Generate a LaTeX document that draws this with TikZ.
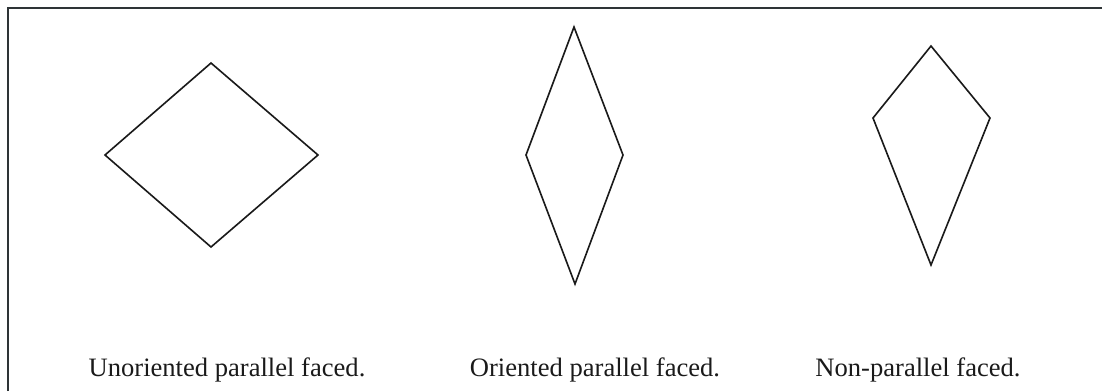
\documentclass[tikz,border=0pt]{standalone}
\usepackage{fontspec}
\setmainfont{Liberation Serif}
\definecolor{ink}{HTML}{1A1A1A}
\definecolor{rule}{HTML}{2E3436}
\newcommand{\capsize}{\fontsize{18.9}{22}\selectfont}
\tikzset{
 every node/.append style={font=\capsize,text=ink},
 crystal/.style={draw=ink,line width=1.15pt,line join=miter},
 caption/.style={anchor=base,inner sep=0pt},
 frame/.style={draw=rule,line width=1.5pt},
}

\begin{document}
\begin{tikzpicture}[x=0.025cm,y=-0.025cm]
\useasboundingbox (0,0) rectangle (1102,391);

% frame, cut at right and bottom
\draw[frame] (8,391) -- (8,8) -- (1102,8);

% unoriented parallel faced
\coordinate (ut) at (211,63);
\coordinate (ur) at (318,155);
\coordinate (ub) at (211,247);
\coordinate (ul) at (105,155);
\draw[crystal] (ut) -- (ur) -- (ub) -- (ul) -- cycle;

% oriented parallel faced
\coordinate (ot) at (574,27);
\coordinate (or) at (623,155);
\coordinate (ob) at (575,284);
\coordinate (ol) at (526,155);
\draw[crystal] (ot) -- (or) -- (ob) -- (ol) -- cycle;

% non-parallel faced
\coordinate (nt) at (931,46);
\coordinate (nr) at (990,118);
\coordinate (nb) at (931,265);
\coordinate (nl) at (873,118);
\draw[crystal] (nt) -- (nr) -- (nb) -- (nl) -- cycle;

\node[caption] (ucap) at (227,376) {Unoriented parallel faced.};
\node[caption] (ocap) at (595,376) {Oriented parallel faced.};
\node[caption] (ncap) at (918,376) {Non-parallel faced.};
\end{tikzpicture}
\end{document}
